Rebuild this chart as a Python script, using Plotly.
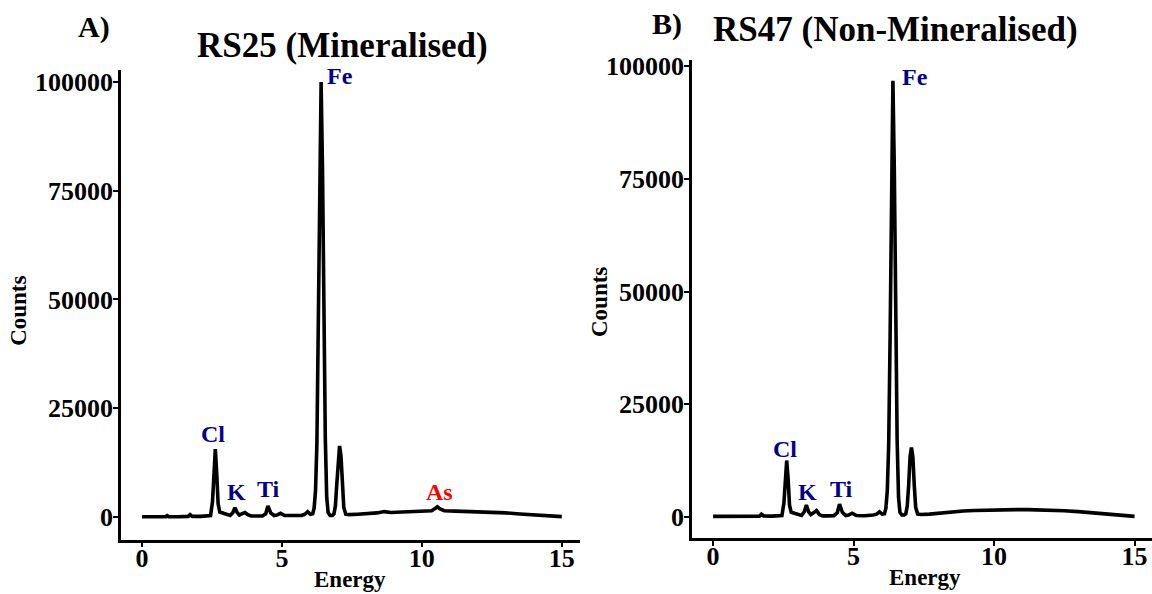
import plotly.graph_objects as go

# ---------------- data ----------------
energy = [0.0, 0.5, 0.85, 0.9, 0.95, 1.3, 1.65, 1.72, 1.8, 2.1,
          2.45, 2.52, 2.57, 2.62, 2.67, 2.72, 2.78, 2.9, 3.05, 3.15,
          3.25, 3.32, 3.4, 3.48, 3.6, 3.68, 3.78, 3.9, 4.1, 4.3,
          4.42, 4.5, 4.6, 4.72, 4.82, 4.95, 5.1, 5.4, 5.7, 5.82,
          5.92, 6.02, 6.1, 6.15, 6.2, 6.25, 6.3, 6.35, 6.4, 6.45,
          6.5, 6.55, 6.6, 6.65, 6.72, 6.8, 6.86, 6.91, 6.96, 7.01,
          7.06, 7.11, 7.16, 7.21, 7.28, 7.4, 7.7, 8.0, 8.4, 8.65,
          8.9, 9.3, 9.7, 10.1, 10.35, 10.47, 10.55, 10.65, 10.8, 11.2,
          11.6, 12.0, 12.5, 13.0, 13.5, 14.0, 14.5, 15.0]

counts_rs25 = [0, 0, 50, 250, 50, 0, 100, 500, 100, 100,
               300, 3500, 11000, 15600, 10000, 3000, 1100, 900, 500, 300,
               1000, 2100, 1000, 400, 800, 1000, 500, 200, 200, 200,
               700, 2500, 900, 300, 400, 800, 300, 200, 300, 600,
               1200, 600, 700, 2000, 6000, 17000, 42000, 78000, 100000, 80000,
               46000, 18000, 4500, 1000, 300, 300, 700, 2500, 7500, 14000,
               16300, 14000, 7500, 2200, 600, 500, 600, 700, 900, 1200,
               1000, 1100, 1200, 1300, 1400, 1900, 2300, 1800, 1400, 1300,
               1250, 1200, 1050, 900, 650, 400, 200, 50]

counts_rs47 = [100, 100, 100, 150, 100, 100, 150, 600, 200, 150,
               300, 3000, 9000, 12500, 8500, 2600, 1000, 800, 500, 300,
               1200, 2600, 1100, 500, 1000, 1400, 500, 200, 200, 250,
               900, 2800, 1000, 300, 400, 800, 300, 250, 400, 600,
               1100, 600, 700, 1900, 5800, 16000, 40000, 75000, 96800, 77000,
               44000, 17000, 4300, 1000, 400, 400, 700, 2400, 7000, 13300,
               15400, 13300, 7000, 2100, 600, 500, 600, 800, 1000, 1200,
               1300, 1400, 1500, 1550, 1600, 1600, 1600, 1600, 1600, 1600,
               1550, 1500, 1350, 1150, 850, 500, 250, 100]

x_ticks = [0, 5, 10, 15]
y_ticks = [0, 25000, 50000, 75000, 100000]

panel_titles = ["RS25 (Mineralised)", "RS47 (Non-Mineralised)"]
panel_tags = ["A)", "B)"]

labels_rs25 = [("Cl", 2.54, 19000, "#00008B"), ("K", 3.37, 5700, "#00008B"),
               ("Ti", 4.51, 6400, "#00008B"), ("As", 10.63, 5700, "#FF0000"),
               ("Fe", 7.09, 101300, "#00008B")]
labels_rs47 = [("Cl", 2.56, 15000, "#00008B"), ("K", 3.35, 5500, "#00008B"),
               ("Ti", 4.56, 6150, "#00008B"), ("Fe", 7.17, 97600, "#00008B")]

# ---------------- figure ----------------
W, H = 1152, 594
FONT = "Liberation Serif"

fig = go.Figure()
fig.add_trace(go.Scatter(x=energy, y=counts_rs25, mode="lines",
                         line=dict(color="black", width=3.6), xaxis="x", yaxis="y",
                         showlegend=False, hoverinfo="x+y"))
fig.add_trace(go.Scatter(x=energy, y=counts_rs47, mode="lines",
                         line=dict(color="black", width=3.6), xaxis="x2", yaxis="y2",
                         showlegend=False, hoverinfo="x+y"))

def px_x(p):
    return p / W

def px_y(p):
    return 1 - p / H

axis_common = dict(showline=True, linecolor="black", linewidth=2.5,
                   ticks="outside", ticklen=5, tickwidth=2, tickcolor="black",
                   showgrid=False, zeroline=False, tickformat="d",
                   tickfont=dict(family=FONT, size=26, color="black", weight="bold"))

fig.update_layout(
    width=W, height=H,
    margin=dict(l=0, r=0, t=0, b=0),
    paper_bgcolor="white", plot_bgcolor="white",
    xaxis=dict(domain=[px_x(121), px_x(580)], range=[-0.75, 15.65],
               tickvals=x_ticks, anchor="y", ticklabelstandoff=-12, **axis_common),
    yaxis=dict(domain=[px_y(539), px_y(63)], range=[-5275, 102750],
               tickvals=y_ticks, anchor="x", ticklabelstandoff=-5, **axis_common),
    xaxis2=dict(domain=[px_x(692), 1.0], range=[-0.75, 15.62],
                tickvals=x_ticks, anchor="y2", ticklabelstandoff=-12, **axis_common),
    yaxis2=dict(domain=[px_y(537), px_y(53)], range=[-4650, 101330],
                tickvals=y_ticks, anchor="x2", ticklabelstandoff=-5, **axis_common),
)

ann = []
for txt, cx, cy in [(panel_titles[0], 342, 38), (panel_titles[1], 895, 22)]:
    ann.append(dict(text=txt, x=px_x(cx), y=px_y(cy), xref="paper", yref="paper",
                    showarrow=False, xanchor="center", yanchor="middle",
                    font=dict(family=FONT, size=35, color="black", weight="bold")))
for txt, cx, cy in [(panel_tags[0], 94, 19), (panel_tags[1], 667, 16)]:
    ann.append(dict(text=txt, x=px_x(cx), y=px_y(cy), xref="paper", yref="paper",
                    showarrow=False, xanchor="center", yanchor="middle",
                    font=dict(family=FONT, size=30, color="black", weight="bold")))
for cx, cy in [(19, 307), (600, 298)]:
    ann.append(dict(text="Counts", x=px_x(cx), y=px_y(cy), xref="paper", yref="paper",
                    showarrow=False, textangle=-90, xanchor="center", yanchor="middle",
                    font=dict(family=FONT, size=23, color="black", weight="bold")))
for cx, cy in [(350, 579), (925, 577)]:
    ann.append(dict(text="Energy", x=px_x(cx), y=px_y(cy), xref="paper", yref="paper",
                    showarrow=False, xanchor="center", yanchor="middle",
                    font=dict(family=FONT, size=23, color="black", weight="bold")))
for name, ex, ey, col in labels_rs25:
    ann.append(dict(text=name, x=ex, y=ey, xref="x", yref="y", showarrow=False,
                    xanchor="center", yanchor="middle",
                    font=dict(family=FONT, size=24, color=col, weight="bold")))
for name, ex, ey, col in labels_rs47:
    ann.append(dict(text=name, x=ex, y=ey, xref="x2", yref="y2", showarrow=False,
                    xanchor="center", yanchor="middle",
                    font=dict(family=FONT, size=24, color=col, weight="bold")))

fig.update_layout(annotations=ann)
# remove the browser's default 8px body margin so the figure fills the window exactly
fig.write_html("out.html",
               config={"displayModeBar": False},
               post_script="document.body.style.margin='0px';"
                           "document.documentElement.style.overflow='hidden';")
